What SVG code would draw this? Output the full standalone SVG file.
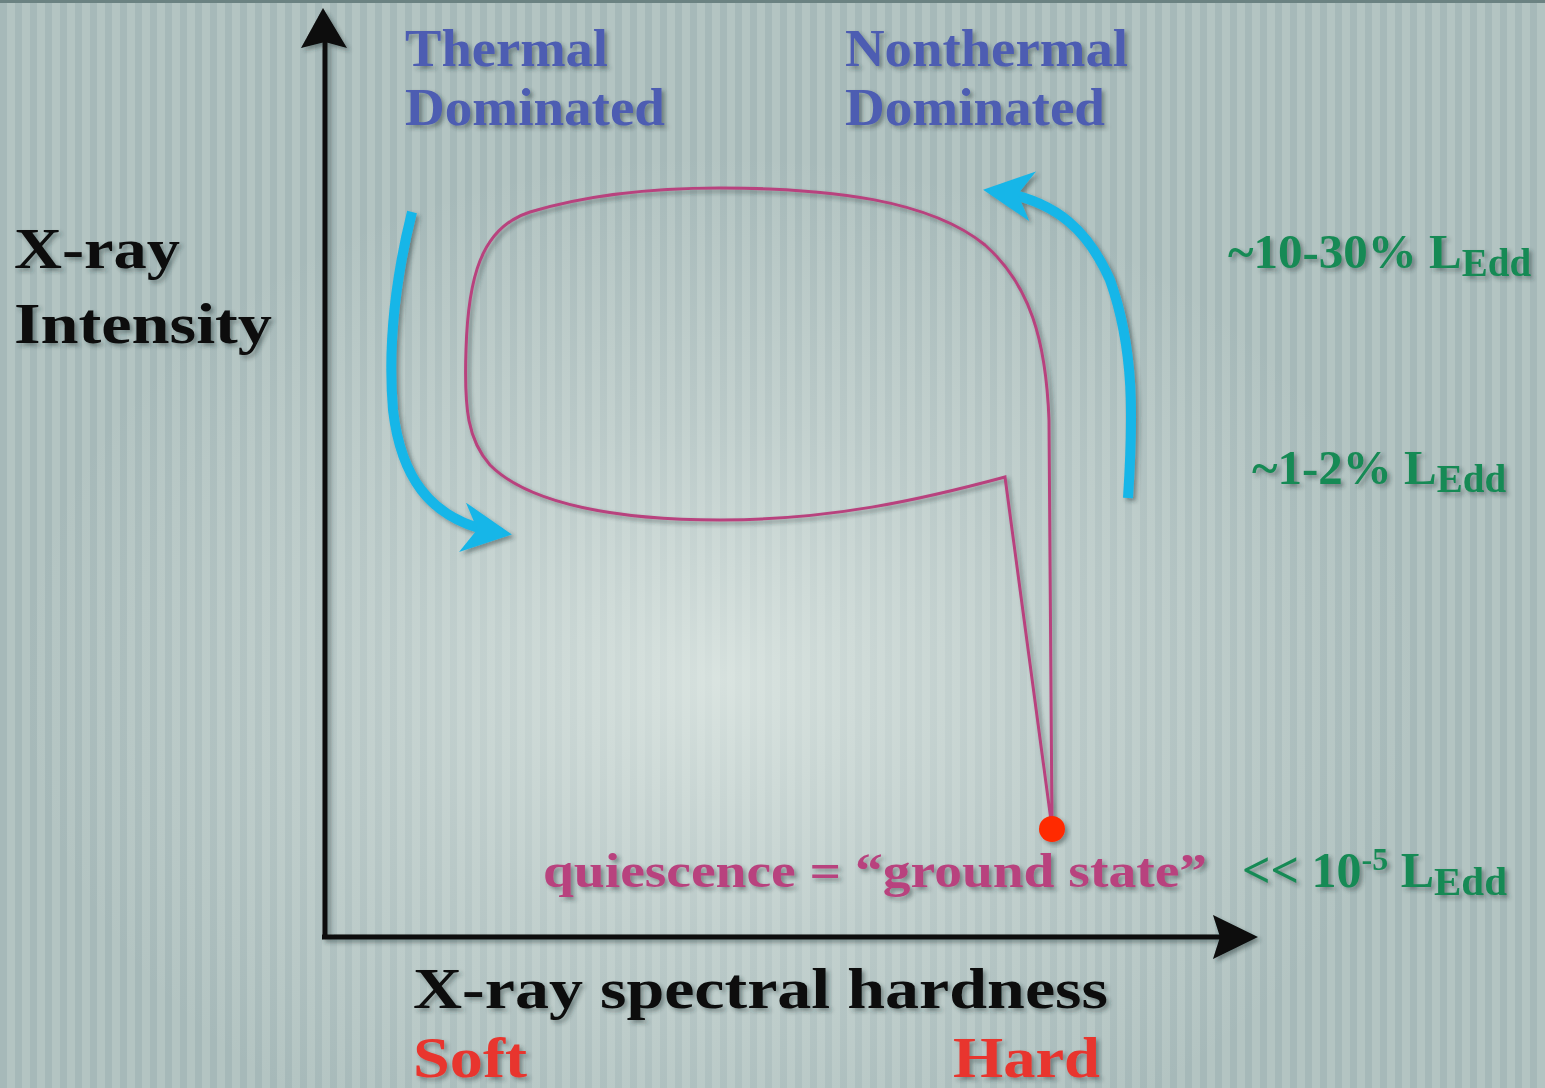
<svg xmlns="http://www.w3.org/2000/svg" width="1545" height="1088" viewBox="0 0 1545 1088">
<defs>
<pattern id="stripes" x="0" y="0" width="15" height="20" patternUnits="userSpaceOnUse">
<rect x="0" y="0" width="15" height="20" fill="#a6b9b9"/>
<rect x="7" y="0" width="8" height="20" fill="#b3c4c2"/>
</pattern>
<radialGradient id="glow" cx="720" cy="680" r="700" gradientUnits="userSpaceOnUse" gradientTransform="translate(720 680) scale(1 0.75) translate(-720 -680)">
<stop offset="0" stop-color="#e6eeea" stop-opacity="0.75"/>
<stop offset="0.5" stop-color="#dfe8e5" stop-opacity="0.35"/>
<stop offset="1" stop-color="#dfe8e5" stop-opacity="0"/>
</radialGradient>
<filter id="sh" x="-10%" y="-10%" width="130%" height="130%">
<feDropShadow dx="3" dy="3" stdDeviation="2" flood-color="#203030" flood-opacity="0.45"/>
</filter>
<marker id="blueHead" viewBox="0 0 10 10" refX="8" refY="5" markerWidth="5" markerHeight="5" markerUnits="strokeWidth" orient="auto">
<path d="M0,0 L10,5 L0,10 L3,5 Z" fill="#17b6e8"/>
</marker>
<style>
text { font-family: "Liberation Serif", "DejaVu Serif", serif; font-weight: bold; }
.blue { fill: #4d5db2; font-size: 52px; }
.black { fill: #0d0d0d; }
.green { fill: #198a55; }
.mag { fill: #b8437e; }
.red { fill: #e8352e; }
.axis { stroke: #0a0a0a; stroke-width: 5; fill: none; }
.cycle { stroke: #b8437e; stroke-width: 3; fill: none; stroke-linejoin: miter; }
.flow { stroke: #17b6e8; stroke-width: 10; fill: none; stroke-linecap: butt; }
</style>
</defs>
<rect width="1545" height="1088" fill="url(#stripes)"/>
<rect width="1545" height="1088" fill="url(#glow)"/>
<rect width="1545" height="3" fill="#6b8282"/>

<g id="connectors" filter="url(#sh)">
<g id="y-axis">
<line class="axis" x1="325" y1="937" x2="325" y2="40"/>
<path d="M323,8 L347,48 L325,42 L301,48 Z" fill="#0a0a0a"/>
</g>
<g id="x-axis">
<line class="axis" x1="322" y1="937" x2="1225" y2="937"/>
<path d="M1258,937 L1213,915 L1220,937 L1213,959 Z" fill="#0a0a0a"/>
</g>
<path id="cycle" class="cycle" d="M1052,828 L1049,420 C1046,340 1030,285 985,245 C930,200 830,188 720,188 C630,188 570,200 530,212 C480,228 468,280 466,350 C464,410 468,440 490,465 C530,505 620,520 720,520 C830,520 920,500 1005,477 L1052,828"/>
<path id="flow-left" class="flow" d="M412,212 C395,280 388,350 393,410 C400,470 425,522 502,533" marker-end="url(#blueHead)"/>
<path id="flow-right" class="flow" d="M1128,498 C1133,420 1135,350 1110,280 C1090,235 1060,200 993,191" marker-end="url(#blueHead)"/>
</g>

<g id="ground-state" filter="url(#sh)">
<ellipse cx="1052" cy="829" rx="13" ry="13" fill="#ff2a00"/>
</g>

<g id="labels" filter="url(#sh)">
<g id="thermal"><text class="blue" x="405" y="66" textLength="203" lengthAdjust="spacingAndGlyphs">Thermal</text><text class="blue" x="405" y="125" textLength="260" lengthAdjust="spacingAndGlyphs">Dominated</text></g>
<g id="nonthermal"><text class="blue" x="845" y="66" textLength="283" lengthAdjust="spacingAndGlyphs">Nonthermal</text><text class="blue" x="845" y="125" textLength="260" lengthAdjust="spacingAndGlyphs">Dominated</text></g>
<g id="y-label"><text class="black" x="14" y="268" font-size="56" textLength="166" lengthAdjust="spacingAndGlyphs">X-ray</text><text class="black" x="14" y="343" font-size="56" textLength="258" lengthAdjust="spacingAndGlyphs">Intensity</text></g>
<g id="lum-high"><text class="green" x="1228" y="268" font-size="49">~10-30% L<tspan font-size="39" dy="8">Edd</tspan></text></g>
<g id="lum-mid"><text class="green" x="1252" y="484" font-size="49">~1-2% L<tspan font-size="39" dy="8">Edd</tspan></text></g>
<g id="quiescence"><text class="mag" x="543" y="887" font-size="48" textLength="664" lengthAdjust="spacingAndGlyphs">quiescence = “ground state”</text></g>
<g id="lum-low"><text class="green" x="1242" y="887" font-size="50">&lt;&lt; 10<tspan font-size="32" dy="-17">-5</tspan><tspan dy="17"> L</tspan><tspan font-size="41" dy="8">Edd</tspan></text></g>
<g id="x-label"><text class="black" x="413" y="1008" font-size="58" textLength="695" lengthAdjust="spacingAndGlyphs">X-ray spectral hardness</text></g>
<g id="soft"><text class="red" x="413" y="1077" font-size="56" textLength="114" lengthAdjust="spacingAndGlyphs">Soft</text></g>
<g id="hard"><text class="red" x="953" y="1077" font-size="56" textLength="147" lengthAdjust="spacingAndGlyphs">Hard</text></g>
</g>
</svg>
